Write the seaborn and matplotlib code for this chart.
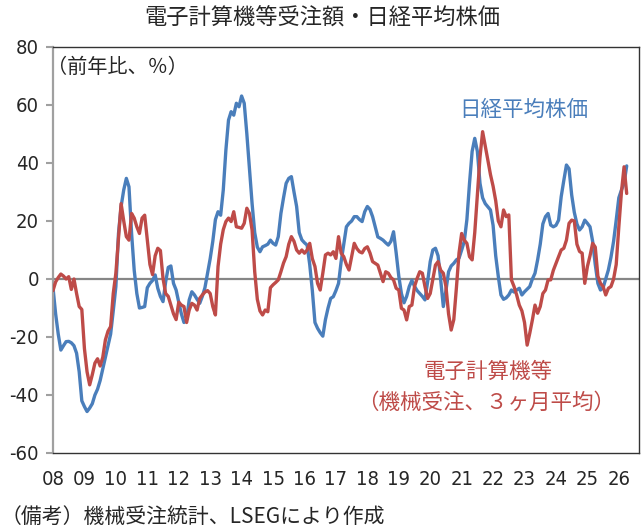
import numpy as np
import pandas as pd
import seaborn as sns
import matplotlib.pyplot as plt
from matplotlib import font_manager

# 日経平均株価（前年比、%）, monthly from 2008-01
nikkei = [
    -3, -12, -19, -24.5, -23, -21.6, -21.5, -22, -23, -25.6, -32, -42,          # 08
    -44, -45.7, -44.5, -43, -40, -38, -35, -31, -27, -23, -19, -11,             # 09
    -2.6, 15.7, 25, 30.7, 34.7, 31.8, 15.7, 3, -5, -10, -9.8, -9.5,             # 10
    -3, -1.5, -0.5, 1.4, -3.2, -6, -7.8, -1, 4, 4.5, -1.5, -3.8,                # 11
    -8, -12, -15, -14, -7.2, -4.4, -5.5, -7, -8.4, -6, -3, 2,                   # 12
    7, 13, 20.5, 23.2, 22, 30.7, 44.5, 54.8, 57.7, 56.5, 60.6, 59.4,            # 13
    63.1, 60.6, 50, 38, 26, 16, 11, 9.4, 11.1, 11.5, 12, 13.4,                  # 14
    12.3, 11.7, 14.6, 22.6, 28, 33, 34.7, 35.3, 30, 25, 16, 13.5,               # 15
    12.5, 11.7, 5, -4, -15, -17, -18.5, -19.7, -14, -10, -6.7, -6.1,            # 16
    -4, -1.5, 6, 12, 18, 19.2, 20, 21.5, 21.5, 20.5, 19.8, 23.2,                # 17
    25, 24, 21.5, 18, 14.5, 14, 13.4, 12.5, 11.7, 13, 16.3, 9,                  # 18
    1, -5, -8.2, -6, -2.6, -0.5, -2.5, -4, -5, -6, -7.2, -1,                    # 19
    6, 10, 10.6, 8, -0.3, -9.5, -4, 2.5, 4.5, 5.4, 6.6, 7.2,                    # 20
    10, 13, 20.5, 33, 44, 48.5, 44, 33, 28, 26, 24.9, 23.8,                     # 21
    18.5, 8, 0.8, -5.5, -7, -6.5, -5.5, -3.8, -4.5, -3.8, -3.2, -5.5,           # 22
    -4.4, -3.5, -2.6, 0, 2, 6.6, 12, 19, 21.5, 22.6, 18.6, 18,                  # 23
    18.5, 20.3, 28.4, 34, 39.3, 38, 29, 23, 19, 16.9, 18, 20.3,                 # 24
    19.2, 18, 13, 5, -1.5, -3.8, -3, 0, 3.1, 7.5, 13, 20.3,                     # 25
    28, 30.7, 33, 39,                                                           # 26
]

# 電子計算機等（機械受注、3ヶ月平均、前年比、%）
computers = [
    -4, -1, 0.5, 1.7, 1, 0, 0.8, -3.6, 0, -5, -9.5, -10.5,                     # 08
    -24, -32, -36.5, -33, -29, -27.5, -30, -27, -21, -18, -16.4, -5,            # 09
    2, 14, 26, 20, 14.6, 13.4, 22.6, 21, 18, 15.7, 21, 22,                      # 10
    13.4, 5, 1.5, 8, 10.6, 9.8, 0.2, -5, -6, -9, -12, -14,                      # 11
    -8, -9, -9.5, -15, -10.7, -8.4, -9, -10.7, -6.7, -5.5, -4.5, -4,            # 12
    -5, -9.5, -12.4, 4.3, 12, 17, 19.8, 21, 19.8, 23.2, 18, 17.8,               # 13
    17.5, 19.2, 24.4, 22.6, 16.9, 2.5, -7, -11, -12.4, -10.7, -11.3, -3,        # 14
    -2, -1.2, -0.3, 2.5, 5.5, 7.7, 12, 14.6, 13, 10, 8.9, 10,                   # 15
    8.9, 10, 12.3, 7, 4.3, -1.5, -3.8, 2, 8.3, 8.9, 8.3, 9.4,                   # 16
    7.1, 14.6, 8.9, 7.7, 5, 3.1, 7.7, 12.3, 10.5, 9.4, 9, 10.5,                 # 17
    11.1, 9, 6, 5.4, 4.8, 2, -0.9, 2.5, 2, 0.5, -0.3, -3.2,                     # 18
    -3.8, -10.1, -10.7, -14.1, -9.5, -9, -2.6, 0.2, 2.5, 2, -2.6, -6.7,         # 19
    -5, 0, 4.8, 6, 3, 2, -2.6, -12, -17.6, -14, -3, 9,                          # 20
    15.7, 13.4, 12.3, 7.7, 6.6, 16, 29, 42, 50.8, 46, 41, 36,                   # 21
    32, 27, 20, 18, 23.8, 21.5, 22.1, -0.3, -2.6, -5.5, -9, -11,                # 22
    -15, -22.8, -18.7, -14.1, -9, -11.8, -9.5, -5, -3.8, -0.3, -0.3, 3,         # 23
    5.4, 7.7, 10, 10.6, 13.4, 19.2, 20.3, 20, 12, 9.5, 8.9, -1.5,               # 24
    4.3, 8, 12.3, 11, 1, -1.5, -2.6, -5.5, -3.2, -2.6, 0, 5,                    # 25
    18, 30, 38.7, 29.5,                                                         # 26
]

year_labels = ["08", "09", "10", "11", "12", "13", "14", "15", "16", "17",
               "18", "19", "20", "21", "22", "23", "24", "25", "26"]

df = pd.DataFrame({
    "month": np.arange(len(nikkei)),
    "nikkei": nikkei,
    "computers": computers,
})

sns.set_style("white")
plt.rcParams['font.family'] = ['Noto Sans CJK JP', 'DejaVu Sans']
plt.rcParams['axes.unicode_minus'] = False

# narrow digits like the original; fall back if no narrow face is around
names = {f.name for f in font_manager.fontManager.ttflist}
if 'Liberation Sans Narrow' in names:
    num_font, num_stretch, num_size = ['Liberation Sans Narrow'], 'normal', 15.5
elif 'DejaVu Sans Condensed' in names:
    num_font, num_stretch, num_size = ['DejaVu Sans Condensed'], 'condensed', 15
else:
    num_font, num_stretch, num_size = ['DejaVu Sans'], 'condensed', 14.5

blue = '#4A7EBB'
red = '#BE4B48'

fig = plt.figure(figsize=(6.44, 5.31), dpi=100)
ax = fig.add_axes([53 / 644, 1 - 453 / 531, 586 / 644, 406 / 531])

ax.axhline(0, color='#868686', lw=1.6, zorder=1)
sns.lineplot(data=df, x="month", y="computers", color=red, lw=2.4, ax=ax, zorder=3)
sns.lineplot(data=df, x="month", y="nikkei", color=blue, lw=2.4, ax=ax, zorder=2)

ax.set_xlim(0, 223.7)
ax.set_ylim(-60, 80)
ax.set_yticks(np.arange(-60, 81, 20))
ax.set_xticks(np.arange(0, 12 * len(year_labels), 12))
ax.set_xticklabels(year_labels)
ax.set_xlabel("")
ax.set_ylabel("")

for lab in ax.get_xticklabels() + ax.get_yticklabels():
    lab.set_family(num_font)
    lab.set_stretch(num_stretch)
    lab.set_fontsize(num_size)
ax.tick_params(axis='y', direction='out', length=5, width=1.5, color='#A0A0A0', pad=5, left=True)
ax.tick_params(axis='x', length=0, pad=12)

for side in ['top', 'right', 'bottom']:
    ax.spines[side].set_color('#333333')
    ax.spines[side].set_linewidth(1.0)
ax.spines['left'].set_color('#A0A0A0')
ax.spines['left'].set_linewidth(1.6)

fig.text(0.5, 1 - 18 / 531, "電子計算機等受注額・日経平均株価", ha='center', va='center', fontsize=16)
fig.text(47 / 644, 1 - 67 / 531, "（前年比、％）", ha='left', va='center', fontsize=14.5)
fig.text(524 / 644, 1 - 110 / 531, "日経平均株価", ha='center', va='center', fontsize=15.5, color=blue)
fig.text(488 / 644, 1 - 372 / 531, "電子計算機等", ha='center', va='center', fontsize=15.5, color=red)
fig.text(486 / 644, 1 - 403 / 531, "（機械受注、３ヶ月平均）", ha='center', va='center', fontsize=15.5, color=red)
fig.text(1 / 644, 1 - 517 / 531, "（備考）機械受注統計、LSEGにより作成", ha='left', va='center', fontsize=15)

fig.savefig("out.png", dpi=100)
